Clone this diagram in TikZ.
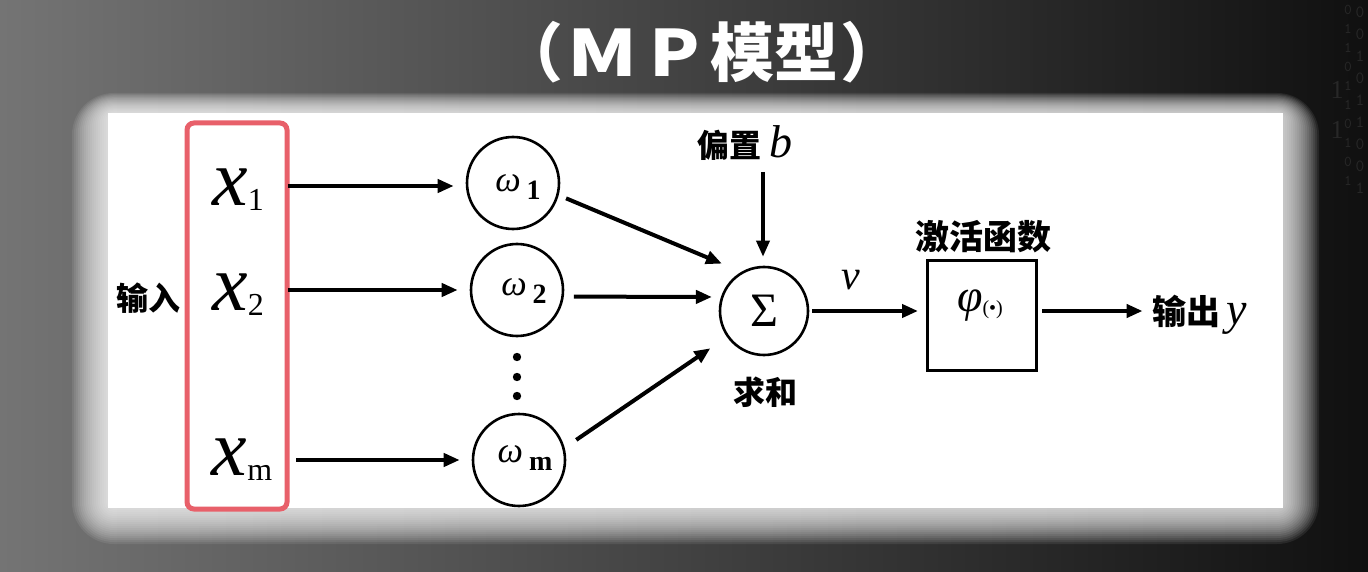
\documentclass[tikz,border=0pt]{standalone}
\usepackage{fontspec}
\setmainfont{Liberation Serif}
\newfontfamily\cjk{Noto Sans CJK SC}
\usetikzlibrary{arrows.meta,calc}
\definecolor{bgleft}{RGB}{116,116,116}
\definecolor{bgmid}{RGB}{56,56,56}
\definecolor{bgright}{RGB}{16,16,16}
\definecolor{redbox}{RGB}{232,96,106}
\definecolor{digit}{RGB}{40,40,40}
\tikzset{
  arr/.style={line width=4, -{Triangle[length=16,width=13]}},
  neuron/.style={circle, draw, line width=2.6, minimum size=92, inner sep=0},
  cjklab/.style={font=\cjk\bfseries\fontsize{32}{32}\selectfont, inner sep=0},
  mathlab/.style={inner sep=0}
}
\newcommand{\xsub}[1]{{\fontsize{80}{80}\selectfont\itshape x}\raisebox{-5pt}{\fontsize{32}{32}\selectfont #1}}
\newcommand{\wsub}[1]{{\fontsize{36}{36}\selectfont\itshape ω}\hspace{6pt}\raisebox{-8pt}{\fontsize{28}{28}\selectfont\bfseries #1}}
\begin{document}
\begin{tikzpicture}[x=1pt,y=-1pt]
\useasboundingbox (0,0) rectangle (1368,572);
% background
\shade[left color=bgleft, middle color=bgmid, right color=bgright] (0,0) rectangle (1368,572);
% binary decoration
\node[text=digit, font=\fontsize{26}{30}\selectfont, align=center, inner sep=0] (bin1) at (1337,110) {1\\[10pt]1};
\node[text=digit, font=\ttfamily\fontsize{15}{19}\selectfont, align=center, inner sep=0] (bin2) at (1348,95) {0\\1\\1\\0\\1\\1\\0\\1\\0\\1};
\node[text=digit, font=\ttfamily\fontsize{17}{22}\selectfont, align=center, inner sep=0] (bin3) at (1360,100) {0\\0\\1\\0\\1\\1\\0\\0\\1};
% glow
\foreach \i in {0,...,17}{
  \pgfmathsetmacro{\e}{36-2*\i}
  \pgfmathsetmacro{\et}{20-1.1*\i}
  \fill[white, opacity=0.08, rounded corners={\e+6}] (108-\e,113-\et) rectangle (1283+\e,508+\e);
}
% panel
\fill[white] (108,113) rectangle (1283,508);
% title
\node[text=white, font=\cjk\bfseries\fontsize{64}{64}\selectfont, inner sep=0] (title) at (702,52) {（\hspace{4pt}\scalebox{1.25}[1]{M}\hspace{12pt}\scalebox{1.15}[1]{P}\hspace{10pt}模型\hspace{2pt}）};
% input box
\draw[redbox, line width=5, rounded corners=7] (187,123) rectangle (287,509);
\node[cjklab] (in) at (148,298) {输入};
\node[mathlab] (x1) at (238,190) {\xsub{1}};
\node[mathlab] (x2) at (238,295) {\xsub{2}};
\node[mathlab] (xm) at (242,460) {\xsub{m}};
% weights
\node[neuron] (w1) at (513,183) {};
\node[neuron] (w2) at (517,290) {};
\node[neuron] (wm) at (519,460) {};
\node[mathlab] (w1t) at (518,187) {\wsub{1}};
\node[mathlab] (w2t) at (524,291) {\wsub{2}};
\node[mathlab] (wmt) at (525,458) {\wsub{m}};
\foreach \yy in {357,377,396}{
  \fill (517,\yy) circle (4.2);
}
\draw[arr, shorten <=24, shorten >=12] (x1.east |- w1) ++(0,3) coordinate (a1) (a1) -- (a1 -| w1.west);
\draw[arr, shorten <=24, shorten >=12] (x2.east |- w2) -- (w2.west);
\draw[arr, shorten <=24, shorten >=12] (xm.east |- wm) -- (wm.west);
% sum
\node[circle, draw, line width=2.6, minimum size=88, inner sep=0, font=\fontsize{48}{48}\selectfont] (s) at (764,311) {Σ};
\node[cjklab] (sumlab) at (765,392) {求和};
\draw[arr, shorten <=8, shorten >=21] (w1.-15) -- (s.120);
\draw[arr, shorten <=10, shorten >=9] (w2.-8) -- (s.162);
\draw[arr, shorten <=14, shorten >=20] (wm.15) -- (s.215);
% bias
\node[inner sep=0] (bias) at (745,143) {{\cjk\bfseries\fontsize{32}{32}\selectfont 偏置}\hspace{8pt}{\fontsize{46}{46}\selectfont\itshape b}};
\coordinate (btop) at (763,172);
\draw[arr, line width=3.5, shorten >=9] (btop) -- (btop |- s.north);
% activation
\node[draw, line width=3, minimum width=109, minimum height=110, inner sep=0] (act) at (982,315) {};
\node[mathlab] (phi) at (980,306) {{\fontsize{46}{46}\selectfont\itshape φ}\raisebox{-3pt}{\fontsize{20}{20}\selectfont(•)}};
\node[cjklab, font=\cjk\bfseries\fontsize{34}{34}\selectfont] (actlab) at (983,237) {激活函数};
\node[mathlab, font=\fontsize{42}{42}\selectfont\itshape] (v) at (851,280) {v};
\draw[arr, shorten <=3, shorten >=8] (s.east) -- (s.east -| act.west);
% output
\node[inner sep=0] (out) at (1200,315) {{\cjk\bfseries\fontsize{34}{34}\selectfont 输出}\hspace{6pt}{\fontsize{46}{46}\selectfont\itshape y}};
\draw[arr, shorten <=4, shorten >=10] (act.east |- s.east) -- (out.west |- s.east);
\end{tikzpicture}
\end{document}
